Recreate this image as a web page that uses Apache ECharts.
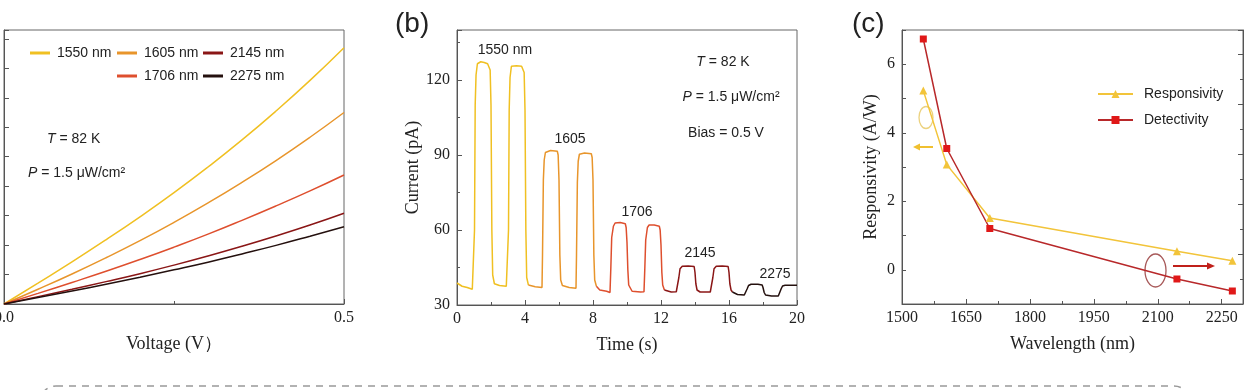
<!DOCTYPE html>
<html><head><meta charset="utf-8">
<script src="https://cdn.jsdelivr.net/npm/echarts@6/dist/echarts.min.js"></script>
<style>html,body{margin:0;padding:0;background:#fff}#c{width:1248px;height:390px}</style>
</head><body><div id="c"></div>
<script>
// ---------- Panel (a): I-V curves ----------
const voltage = [0, 0.05, 0.1, 0.15, 0.2, 0.25, 0.3, 0.35, 0.4, 0.45, 0.5];
const iv_1550 = [0, 0.71, 1.43, 2.18, 2.96, 3.78, 4.65, 5.57, 6.55, 7.59, 8.70];
const iv_1605 = [0, 0.50, 1.02, 1.57, 2.15, 2.77, 3.43, 4.13, 4.87, 5.66, 6.50];
const iv_1706 = [0, 0.36, 0.73, 1.11, 1.51, 1.93, 2.37, 2.84, 3.33, 3.84, 4.38];
const iv_2145 = [0, 0.25, 0.50, 0.76, 1.03, 1.32, 1.63, 1.96, 2.31, 2.68, 3.08];
const iv_2275 = [0, 0.22, 0.44, 0.67, 0.91, 1.16, 1.42, 1.70, 1.99, 2.30, 2.62];

// ---------- Panel (b): photocurrent vs time [t (s), I (pA)] ----------
const pc_1550 = [[0,38.8],[0.3,37.5],[0.6,37],[0.9,36.3],[1.0,36.5],[1.03,60],[1.07,110],[1.12,122],[1.2,126.5],[1.4,127.3],[1.6,127],[1.8,126.5],[1.9,126],[1.95,124],[2.0,110],[2.05,60],[2.1,42],[2.2,38.5],[2.5,37.8],[2.9,37.5],[3.0,37.6],[3.03,60],[3.07,108],[3.12,121],[3.2,125.5],[3.5,125.7],[3.8,125.5],[3.9,125],[3.95,123],[4.0,108],[4.05,60],[4.1,41],[4.2,38]];
const pc_1605 = [[4.2,38],[4.6,37.3],[5.0,37],[5.03,50],[5.08,80],[5.13,88],[5.2,91],[5.5,91.8],[5.9,91.5],[5.95,90],[6.0,80],[6.05,50],[6.1,40],[6.2,37.8],[6.6,37],[7.0,36.7],[7.03,50],[7.08,79],[7.13,87.5],[7.2,90.3],[7.5,90.8],[7.9,90.5],[7.95,89],[8.0,80],[8.05,50],[8.1,40],[8.2,37.5]];
const pc_1706 = [[8.2,37.5],[8.4,36],[8.8,35.5],[9.0,35],[9.05,45],[9.1,57],[9.2,61.5],[9.3,62.8],[9.6,63],[9.9,62.5],[9.95,61],[10.0,55],[10.05,44],[10.1,38],[10.3,35.5],[10.8,35.2],[11.0,35.3],[11.05,45],[11.1,56],[11.2,61],[11.3,62],[11.6,62],[11.9,61.5],[11.95,60],[12.0,54],[12.05,43],[12.1,38],[12.2,36]];
const pc_2145 = [[12.2,36],[12.6,35.2],[12.9,35.3],[13.0,36],[13.05,41],[13.12,44.5],[13.25,45.5],[13.6,45.6],[13.95,45.4],[14.0,43],[14.05,38.5],[14.12,36],[14.3,35.2],[14.9,35.2],[15.0,36],[15.05,41],[15.12,44.5],[15.25,45.5],[15.6,45.6],[15.95,45.4],[16.0,43],[16.05,38.5],[16.12,36],[16.2,35.2]];
const pc_2275 = [[16.2,35.2],[16.5,34.2],[16.9,34],[17.0,34.5],[17.07,36.5],[17.15,37.8],[17.3,38.3],[17.7,38.3],[17.95,38],[18.0,37],[18.07,35],[18.15,34],[18.5,33.6],[18.9,33.6],[19.0,34],[19.07,36.5],[19.15,37.6],[19.3,37.9],[20,37.9]];

// ---------- Panel (c): responsivity / detectivity ----------
const wavelengths = [1550, 1605, 1706, 2145, 2275];
const responsivity = [5.23, 3.07, 1.51, 0.54, 0.26];
const detectivity = [5.3, 3.11, 1.51, 0.5, 0.26]; // right-axis units (unlabelled)

const names = ['1550 nm', '1605 nm', '1706 nm', '2145 nm', '2275 nm'];
const colors = ['#f0c022', '#e8952b', '#de4f2e', '#8a1616', '#24100e'];
const ivSets = [iv_1550, iv_1605, iv_1706, iv_2145, iv_2275];
const pcSets = [pc_1550, pc_1605, pc_1706, pc_2145, pc_2275];

const SERIF = '"Liberation Serif", "Times New Roman", serif';
const SANS = '"Liberation Sans", Arial, sans-serif';
const AX = '#555';

function baseAxis(extra) {
  return Object.assign({
    axisLine: { show: true, onZero: false, lineStyle: { color: AX, width: 1 } },
    axisTick: { show: true, inside: true, length: 5, lineStyle: { color: AX } },
    minorTick: { show: true, splitNumber: 2, length: 3, lineStyle: { color: AX } },
    splitLine: { show: false },
    axisLabel: { fontFamily: SERIF, fontSize: 16, color: '#222', margin: 6, formatter: v => String(v) },
    nameLocation: 'middle',
    nameTextStyle: { fontFamily: SERIF, fontSize: 18, color: '#222' }
  }, extra);
}

const chart = echarts.init(document.getElementById('c'), null, { renderer: 'canvas' });

const series = [];
names.forEach((n, i) => {
  series.push({
    name: n, type: 'line', xAxisIndex: 0, yAxisIndex: 0,
    data: voltage.map((v, k) => [v, ivSets[i][k]]),
    smooth: true, symbol: 'none', color: colors[i],
    lineStyle: { width: 1.5, color: colors[i] }
  });
});
names.forEach((n, i) => {
  series.push({
    name: 'b' + n, type: 'line', xAxisIndex: 1, yAxisIndex: 1,
    data: pcSets[i], symbol: 'none', color: colors[i],
    lineStyle: { width: 1.5, color: colors[i] }
  });
});
series.push({
  name: 'Responsivity', type: 'line', xAxisIndex: 2, yAxisIndex: 2,
  data: wavelengths.map((w, k) => [w, responsivity[k]]),
  symbol: 'triangle', symbolSize: 8, color: '#f2c43a',
  lineStyle: { width: 1.5, color: '#f2c43a' }, itemStyle: { color: '#f2c43a' }
});
series.push({
  name: 'Detectivity', type: 'line', xAxisIndex: 2, yAxisIndex: 3,
  data: wavelengths.map((w, k) => [w, detectivity[k]]),
  symbol: 'rect', symbolSize: 7, color: '#b8282a',
  lineStyle: { width: 1.5, color: '#b8282a' }, itemStyle: { color: '#e01818' }
});

const legA = (left, data) => ({
  orient: 'vertical', left: left, top: 40, itemWidth: 20, itemHeight: 3, itemGap: 7,
  icon: 'rect', data: data,
  textStyle: { fontFamily: SANS, fontSize: 14, color: '#222', lineHeight: 16, padding: [0, 0, 0, 2] }
});

const italic = 'italic 14px "Liberation Sans", Arial, sans-serif';
const plain = '14px "Liberation Sans", Arial, sans-serif';
function txt(x, y, text, align) {
  return { type: 'text', x: x, y: y, style: { text: text, font: plain, fill: '#222', align: align || 'left', verticalAlign: 'middle', rich: { i: { font: italic, fill: '#222' } } } };
}

const gridBase = { show: true, borderColor: '#666', borderWidth: 1, containLabel: false, outerBoundsMode: 'none' };

const option = {
  animation: false,
  backgroundColor: '#fff',
  grid: [
    Object.assign({ left: 4, top: 30, width: 340, height: 274 }, gridBase),
    Object.assign({ left: 457, top: 30, width: 340, height: 275 }, gridBase),
    Object.assign({ left: 902, top: 30, width: 341, height: 274 }, gridBase)
  ],
  xAxis: [
    baseAxis({ gridIndex: 0, type: 'value', min: 0, max: 0.5, interval: 0.5, name: 'Voltage (V）', nameGap: 31,
      axisLabel: { fontFamily: SERIF, fontSize: 16, color: '#222', margin: 6, formatter: v => v.toFixed(1) } }),
    baseAxis({ gridIndex: 1, type: 'value', min: 0, max: 20, interval: 4, name: 'Time (s)', nameGap: 31 }),
    baseAxis({ gridIndex: 2, type: 'value', min: 1500, max: 2300, interval: 150, name: 'Wavelength (nm)', nameGap: 31,
      axisLabel: { fontFamily: SERIF, fontSize: 16, color: '#222', margin: 6, showMaxLabel: false, formatter: v => String(v) } })
  ],
  yAxis: [
    baseAxis({ gridIndex: 0, type: 'value', min: 0, max: 9.3, interval: 1, axisLabel: { show: false }, minorTick: { show: false } }),
    baseAxis({ gridIndex: 1, type: 'value', min: 30, max: 140, interval: 30, name: 'Current (pA)', nameGap: 34,
      axisLabel: { fontFamily: SERIF, fontSize: 16, color: '#222', margin: 7, showMaxLabel: false, formatter: v => String(v) } }),
    baseAxis({ gridIndex: 2, type: 'value', min: -1, max: 7, interval: 1, name: 'Responsivity (A/W)', nameGap: 22,
      minorTick: { show: false }, axisTick: { show: true, inside: true, length: 4, lineStyle: { color: AX } },
      axisLabel: { fontFamily: SERIF, fontSize: 16, color: '#222', margin: 7, formatter: v => (v % 2 === 0 ? String(v) : '') } }),
    baseAxis({ gridIndex: 2, type: 'value', position: 'right', min: 0, max: 5.48, interval: 1, axisLabel: { show: false } })
  ],
  legend: [
    legA(25, ['1550 nm']),
    legA(112, ['1605 nm', '1706 nm']),
    legA(198, ['2145 nm', '2275 nm']),
    {
      orient: 'vertical', left: 1092, top: 82, itemWidth: 35, itemHeight: 10, itemGap: 12,
      data: ['Responsivity', 'Detectivity'],
      textStyle: { fontFamily: SANS, fontSize: 14, color: '#222', padding: [0, 0, 0, 6] }
    }
  ],
  series: series,
  graphic: [
    { type: 'text', x: 395, y: 24, style: { text: '(b)', font: '28px "Liberation Sans", Arial, sans-serif', fill: '#222', verticalAlign: 'middle' } },
    { type: 'text', x: 852, y: 24, style: { text: '(c)', font: '28px "Liberation Sans", Arial, sans-serif', fill: '#222', verticalAlign: 'middle' } },
    txt(47, 139, '{i|T} = 82 K'),
    txt(28, 173, '{i|P} = 1.5 μW/cm²'),
    txt(505, 50, '1550 nm', 'center'),
    txt(570, 139, '1605', 'center'),
    txt(637, 212, '1706', 'center'),
    txt(700, 253, '2145', 'center'),
    txt(775, 274, '2275', 'center'),
    txt(723, 62, '{i|T} = 82 K', 'center'),
    txt(731, 97, '{i|P} = 1.5 μW/cm²', 'center'),
    txt(726, 133, 'Bias = 0.5 V', 'center'),
    { type: 'ellipse', shape: { cx: 926, cy: 117.5, rx: 7, ry: 11 }, style: { fill: 'none', stroke: '#ecd27f', lineWidth: 1.3 } },
    { type: 'line', shape: { x1: 933, y1: 147, x2: 919, y2: 147 }, style: { stroke: '#f0c030', lineWidth: 2 } },
    { type: 'polygon', shape: { points: [[913, 147], [920, 143.5], [920, 150.5]] }, style: { fill: '#f0c030' } },
    { type: 'ellipse', shape: { cx: 1155.5, cy: 270.5, rx: 10.5, ry: 16.5 }, style: { fill: 'none', stroke: '#a85a5a', lineWidth: 1.3 } },
    { type: 'line', shape: { x1: 1173, y1: 266, x2: 1208, y2: 266 }, style: { stroke: '#c0201a', lineWidth: 2 } },
    { type: 'polygon', shape: { points: [[1215, 266], [1207, 262.5], [1207, 269.5]] }, style: { fill: '#c0201a' } },
    { type: 'rect', shape: { x: 40, y: 386, width: 1150, height: 120, r: 16 }, style: { fill: 'none', stroke: '#999', lineWidth: 1.5, lineDash: [7, 6] } }
  ]
};
chart.setOption(option);
</script></body></html>
